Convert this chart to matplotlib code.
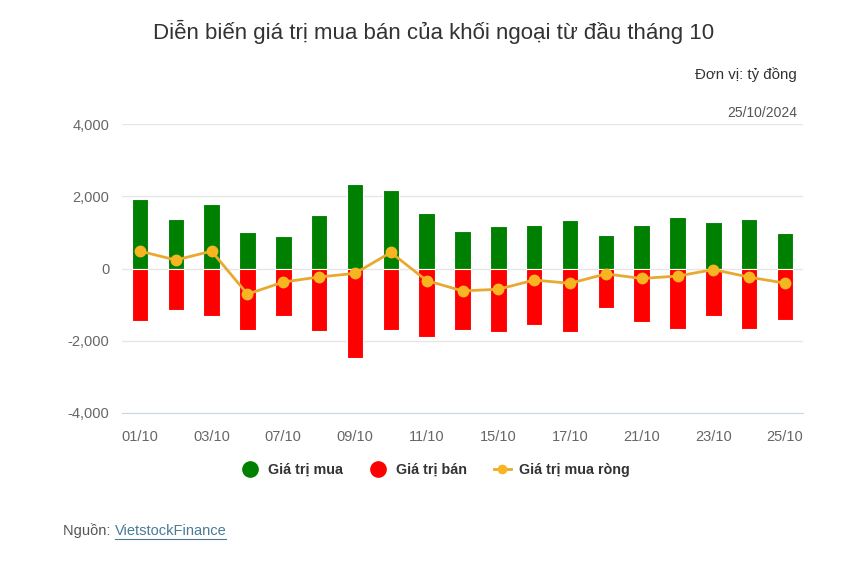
import matplotlib
matplotlib.use("Agg")
import matplotlib.pyplot as plt
import numpy as np
from matplotlib.lines import Line2D

dates = ["01/10", "02/10", "03/10", "04/10", "07/10", "08/10", "09/10", "10/10",
         "11/10", "14/10", "15/10", "16/10", "17/10", "18/10", "21/10", "22/10",
         "23/10", "24/10", "25/10"]
buy = [1930, 1380, 1780, 1005, 905, 1480, 2340, 2165, 1545, 1040, 1180, 1205,
       1340, 930, 1205, 1415, 1280, 1380, 995]
sell = [-1450, -1150, -1325, -1690, -1325, -1735, -2485, -1690, -1910, -1690,
        -1765, -1555, -1765, -1080, -1490, -1665, -1315, -1665, -1415]
net = [480, 235, 480, -710, -375, -235, -135, 445, -335, -620, -575, -320,
       -410, -150, -275, -210, -30, -240, -405]
yticks = [-4000, -2000, 0, 2000, 4000]
ytick_labels = ["-4,000", "-2,000", "0", "2,000", "4,000"]

plt.rcParams['font.family'] = ['Liberation Sans', 'DejaVu Sans']

fig = plt.figure(figsize=(8.56, 5.70), dpi=100)
ax = fig.add_axes([122/856, 1-413/570, (803-122)/856, (413-124)/570])

x = np.arange(len(dates))
ax.bar(x, buy, width=0.46, color="#008000", edgecolor="white", linewidth=0.8, zorder=3)
ax.bar(x, sell, width=0.46, color="#ff0000", edgecolor="white", linewidth=0.8, zorder=3)
ax.plot(x, net, color="#e9a931", linewidth=2, marker="o", markersize=7.5,
        markerfacecolor="#f7b521", markeredgecolor="#f7b521", zorder=4)

ax.set_xlim(-0.5, len(dates) - 0.5)
ax.set_ylim(-4000, 4000)
ax.set_yticks(yticks)
ax.set_yticklabels(ytick_labels)
ax.set_xticks(x[::2])
ax.set_xticklabels(dates[::2])
ax.grid(axis="y", color="#e6e6e6", linewidth=1, zorder=0)
for s in ["top", "right", "left"]:
    ax.spines[s].set_visible(False)
ax.spines["bottom"].set_color("#ccd6eb")
ax.spines["bottom"].set_zorder(5)
ax.tick_params(axis="both", length=0, labelsize=10.5, colors="#666666")
ax.tick_params(axis="y", pad=9)
ax.tick_params(axis="x", pad=12)

fig.text(434/856, 1-32/570, "Diễn biến giá trị mua bán của khối ngoại từ đầu tháng 10",
         ha="center", va="center", fontsize=16, color="#333333")
fig.text(797/856, 1-75/570, "Đơn vị: tỷ đồng", ha="right", va="center",
         fontsize=10.8, color="#333333")
fig.text(797/856, 1-113/570, "25/10/2024", ha="right", va="center",
         fontsize=10, color="#555555")

# legend
handles = [
    Line2D([], [], linestyle="none", marker="o", markersize=11, color="#008000"),
    Line2D([], [], linestyle="none", marker="o", markersize=11, color="#ff0000"),
    Line2D([], [], color="#e9a931", linewidth=2, marker="o", markersize=6,
           markerfacecolor="#f7b521", markeredgecolor="#f7b521"),
]
labels = ["Giá trị mua", "Giá trị bán", "Giá trị mua ròng"]
leg = fig.legend(handles, labels, loc="center", bbox_to_anchor=(436/856, 1-470/570),
                 ncol=3, frameon=False, handlelength=1.2, handletextpad=0.6,
                 columnspacing=1.9, prop={"weight": "bold", "size": 10.3})
for t in leg.get_texts():
    t.set_color("#333333")

t1 = fig.text(63/856, 1-531/570, "Nguồn: ", ha="left", va="center",
              fontsize=10.5, color="#555555")
fig.canvas.draw()
bb = t1.get_window_extent()
t2 = fig.text(bb.x1 / fig.bbox.width, 1-531/570, "VietstockFinance", ha="left", va="center",
              fontsize=10.5, color="#4a7a96")
fig.canvas.draw()
bb2 = t2.get_window_extent()
yline = bb2.y0 - 1
fig.add_artist(Line2D([bb2.x0 / fig.bbox.width, bb2.x1 / fig.bbox.width],
                      [yline / fig.bbox.height, yline / fig.bbox.height],
                      color="#4a7a96", linewidth=0.8, transform=fig.transFigure))

fig.savefig("out.png", dpi=100, facecolor="white")
